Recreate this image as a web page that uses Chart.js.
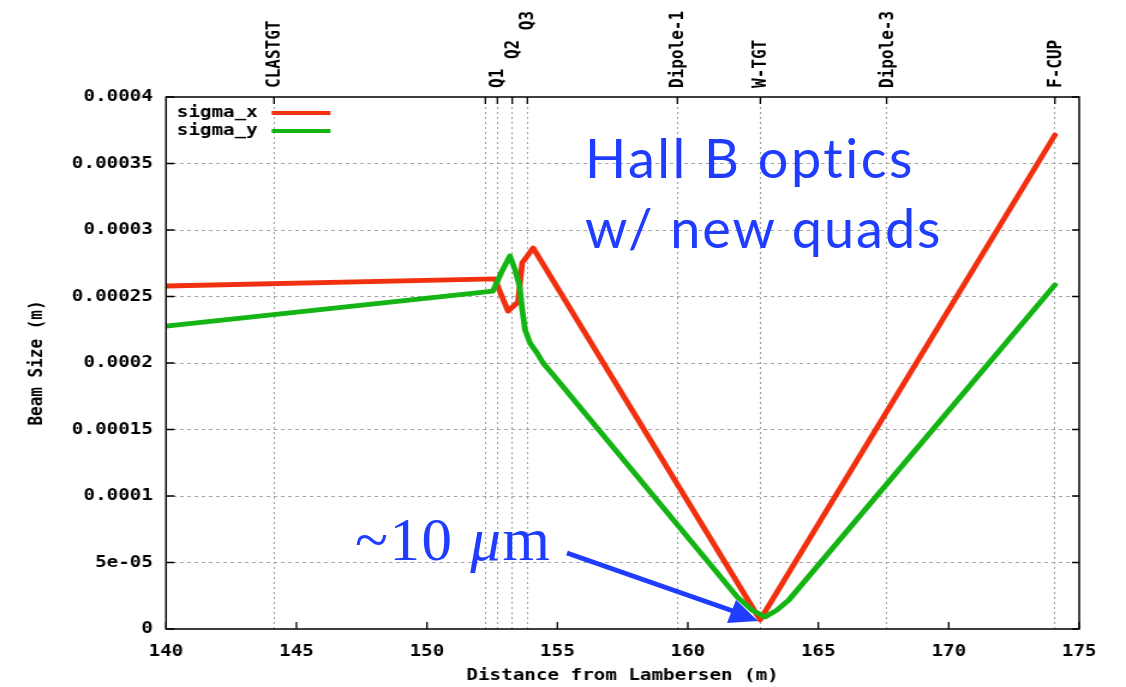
<!DOCTYPE html>
<html>
<head>
<meta charset="utf-8">
<script src="https://cdn.jsdelivr.net/npm/chart.js@4/dist/chart.umd.min.js"></script>
<style>
  html, body { margin: 0; padding: 0; background: #fff; }
  #wrap { position: relative; width: 1126px; height: 687px; overflow: hidden; }
  #beamChart { position: absolute; left: 0; top: 0; }
  #notes { position: absolute; left: 0; top: 0; }
</style>
</head>
<body>
<div id="wrap">
  <!-- the gnuplot picture is stretched sideways, so the canvas is too -->
  <canvas id="beamChart" width="938" height="687" style="width:1126px;height:687px"></canvas>
  <svg id="notes" width="1126" height="687">
    <g fill="#1f3cff">
      <text x="585" y="178" font-family="Lato" font-size="54" letter-spacing="2.5">Hall B optics</text>
      <text x="585" y="248" font-family="Lato" font-size="54" letter-spacing="2">w/ new quads</text>
      <text x="355" y="560" font-family="Liberation Serif" font-size="61" letter-spacing="1.5">~10 <tspan font-style="italic">μ</tspan>m</text>
      <line x1="567" y1="553" x2="733" y2="611" stroke="#1f3cff" stroke-width="5"/>
      <polygon points="758,621 727,623 736,600"/>
    </g>
  </svg>
</div>
<script>
// beam line elements (top axis); Q2/Q3 padded so the labels step up like gnuplot's
const markerPos = [144.14, 152.24, 152.70, 153.27, 153.85, 159.60, 162.78, 167.62, 174.07];
const markerLabels = ['CLASTGT', '', 'Q1', '   Q2', '      Q3', 'Dipole-1', 'W-TGT', 'Dipole-3', 'F-CUP'];

// sigma_x (m) vs distance from Lambersen (m)
const sigmaXpos = [140, 152.61, 152.88, 153.11, 153.49, 153.65, 154.07, 162.77, 174.07];
const sigmaX = [2.579e-4, 2.632e-4, 2.496e-4, 2.39e-4, 2.459e-4, 2.752e-4, 2.865e-4, 6.8e-6, 3.714e-4];

// sigma_y
const sigmaYpos = [140, 152.53, 152.85, 153.18, 153.38, 153.56, 153.64, 153.76, 153.95, 154.22, 154.45, 154.8, 155.22, 161.89, 162.45, 162.96, 163.4, 163.87, 174.07];
const sigmaY = [2.278e-4, 2.541e-4, 2.68e-4, 2.805e-4, 2.70e-4, 2.57e-4, 2.42e-4, 2.25e-4, 2.15e-4, 2.075e-4, 2.0e-4, 1.92e-4, 1.82e-4, 2.41e-5, 1.43e-5, 9.0e-6, 1.4e-5, 2.18e-5, 2.587e-4];

const yTickLabels = ['0', '5e-05', '0.0001', '0.00015', '0.0002', '0.00025', '0.0003', '0.00035', '0.0004'];

const monoFont = { family: '"DejaVu Sans Mono", monospace', weight: 'bold', size: 16 };

Chart.defaults.font = monoFont;
Chart.defaults.color = '#000';

// border, inward ticks and the key, gnuplot style
const framePlugin = {
  id: 'frame',
  afterDatasetsDraw(chart) {
    const { ctx, chartArea: a } = chart;
    const xs = chart.scales.x, x2 = chart.scales.x2, ys = chart.scales.y;
    ctx.save();
    ctx.strokeStyle = '#000';
    ctx.lineWidth = 1.3;
    ctx.beginPath();
    xs.ticks.forEach(t => {
      const p = xs.getPixelForValue(t.value);
      ctx.moveTo(p, a.bottom);
      ctx.lineTo(p, a.bottom - 7);
    });
    x2.ticks.forEach(t => {
      const p = x2.getPixelForValue(t.value);
      ctx.moveTo(p, a.top);
      ctx.lineTo(p, a.top + 7);
    });
    ys.ticks.forEach(t => {
      const p = ys.getPixelForValue(t.value);
      ctx.moveTo(a.left, p);
      ctx.lineTo(a.left + 7, p);
      ctx.moveTo(a.right, p);
      ctx.lineTo(a.right - 6, p);
    });
    ctx.stroke();
    ctx.lineWidth = 1.5;
    ctx.strokeRect(a.left, a.top, a.width, a.height);

    // key
    ctx.font = 'bold 16px "DejaVu Sans Mono"';
    ctx.textBaseline = 'middle';
    ctx.fillStyle = '#000';
    chart.data.datasets.slice().reverse().forEach((ds, i) => {
      const y = a.top + 16 + i * 18;
      ctx.fillText(ds.label, a.left + 9, y);
      ctx.strokeStyle = ds.borderColor;
      ctx.lineWidth = 4;
      ctx.beginPath();
      ctx.moveTo(a.left + 88, y);
      ctx.lineTo(a.left + 137, y);
      ctx.stroke();
    });
    ctx.restore();
  }
};

const ctx = document.getElementById('beamChart').getContext('2d');

const beamChart = new Chart(ctx, {
  type: 'scatter',
  data: {
    datasets: [{
      label: 'sigma_y',
      data: sigmaYpos.map((x, i) => ({ x, y: sigmaY[i] })),
      borderColor: '#14b414',
      order: 0
    }, {
      label: 'sigma_x',
      data: sigmaXpos.map((x, i) => ({ x, y: sigmaX[i] })),
      borderColor: '#f0300f',
      order: 1
    }]
  },
  options: {
    responsive: false,
    animation: false,
    devicePixelRatio: 1,
    layout: { padding: { left: 0, right: 39, top: 0, bottom: 0 } },
    elements: {
      point: { radius: 0 },
      line: { borderWidth: 4.8, tension: 0, borderJoinStyle: 'round', borderCapStyle: 'round' }
    },
    datasets: { scatter: { showLine: true } },
    scales: {
      x: {
        type: 'linear',
        position: 'bottom',
        min: 140,
        max: 175,
        grid: { display: false },
        border: { display: false },
        ticks: { stepSize: 5, padding: 5, maxRotation: 0, callback: v => String(v) },
        title: { display: true, text: 'Distance from Lambersen (m)', padding: { top: 0, bottom: 2 } },
        afterFit: s => { s.height = 58; }
      },
      x2: {
        type: 'linear',
        position: 'top',
        min: 140,
        max: 175,
        grid: { color: '#9c9c9c', lineWidth: 1, drawTicks: false, borderDash: [2, 3] },
        border: { display: false, dash: [2, 3] },
        ticks: {
          autoSkip: false,
          minRotation: 90,
          maxRotation: 90,
          padding: 9,
          labelOffset: 20,
          callback: (v, i) => markerLabels[i]
        },
        afterBuildTicks: s => { s.ticks = markerPos.map(v => ({ value: v })); },
        afterFit: s => { s.height = 97; }
      },
      y: {
        min: 0,
        max: 0.0004,
        grid: {
          drawTicks: false,
          lineWidth: 1,
          borderDash: [3, 3],
          color: c => (c.index === 0 || c.index === yTickLabels.length - 1) ? 'rgba(0,0,0,0)' : '#a4a4a4'
        },
        border: { display: false, dash: [3, 3] },
        ticks: {
          stepSize: 0.00005,
          padding: 11,
          callback: v => yTickLabels[Math.round(v / 0.00005)]
        },
        title: { display: true, text: 'Beam Size (m)', padding: { top: 21, bottom: 0 } },
        afterFit: s => { s.width = 138.3; }
      }
    },
    plugins: {
      legend: { display: false },
      tooltip: { enabled: false }
    }
  },
  plugins: [framePlugin]
});
</script>
</body>
</html>
